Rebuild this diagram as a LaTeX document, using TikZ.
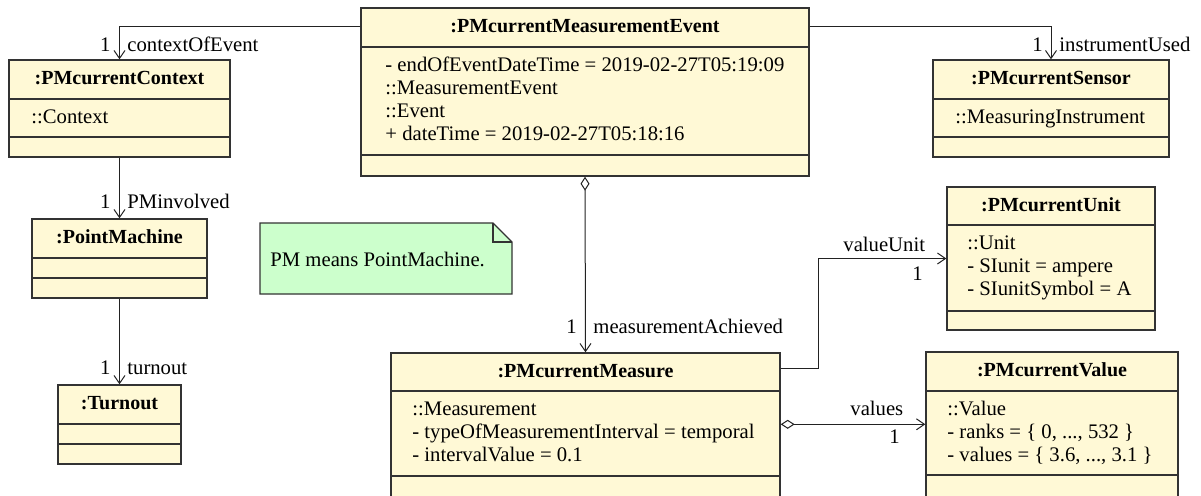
\documentclass[tikz,border=0pt]{standalone}
\usepackage{fontspec}
\setmainfont{Liberation Serif}
\newfontfamily\umlserif{Liberation Serif}
\usetikzlibrary{arrows.meta,calc,fit}

\definecolor{classfill}{HTML}{FFF9D6}
\definecolor{notefill}{HTML}{CCFFCC}
\definecolor{boxline}{HTML}{333333}
\definecolor{linkline}{HTML}{222222}

\tikzset{
  classbox/.style={draw=boxline, fill=classfill, line width=0.7pt, inner sep=0pt},
  sepline/.style={draw=boxline, line width=0.6pt},
  titletext/.style={font=\umlserif\bfseries, anchor=base, inner sep=0pt},
  attrtext/.style={anchor=base west, inner sep=0pt},
  lbl/.style={anchor=base west, inner sep=0pt},
  lblr/.style={anchor=base east, inner sep=0pt},
  assoc/.style={draw=linkline, line width=0.5pt, -{Straight Barb[length=4pt,width=5.5pt]}},
  aggr/.style={draw=linkline, line width=0.5pt,
    {Diamond[open,fill=white,length=7pt,width=4.5pt]}-{Straight Barb[length=4pt,width=5.5pt]}},
  notebox/.style={draw=boxline, fill=notefill, line width=0.7pt},
}

% class box: name, x1, y1, x2, y2, first separator, second separator, title
\newcommand\umlclass[8]{%
  \node[classbox, fit={(#2,#3)(#4,#5)}] (#1) {};
  \draw[sepline] (#2,#6) -- (#4,#6) (#2,#7) -- (#4,#7);
  \node[titletext] (#1-title) at ({(#2+#4)/2},{#3+24}) {#8};
}

\begin{document}
\begin{tikzpicture}[x=0.5pt, y=-0.5pt, font=\umlserif\fontsize{10.35}{12}\selectfont]
\useasboundingbox (0,0) rectangle (1201,495);
\clip (0,0) rectangle (1201,495);
\fill[white] (0,0) rectangle (1201,495);

% classes
\umlclass{ev}{361}{8}{809}{176}{47}{155}{:PMcurrentMeasurementEvent}
\node[attrtext] (ev-a1) at (385,71)  {- endOfEventDateTime = 2019-02-27T05:19:09};
\node[attrtext] (ev-a2) at (385,94)  {::MeasurementEvent};
\node[attrtext] (ev-a3) at (385,117) {::Event};
\node[attrtext] (ev-a4) at (385,140) {+ dateTime = 2019-02-27T05:18:16};

\umlclass{ctx}{9}{60}{230}{157}{99}{137}{:PMcurrentContext}
\node[attrtext] (ctx-a1) at (31,123) {::Context};

\umlclass{sen}{933}{60}{1169}{157}{99}{137}{:PMcurrentSensor}
\node[attrtext] (sen-a1) at (955,123) {::MeasuringInstrument};

\umlclass{pm}{32}{219}{207}{298}{258}{278}{:PointMachine}

\umlclass{to}{58}{385}{181}{464}{424}{444}{:Turnout}

\umlclass{unit}{947}{187}{1155}{330}{225}{311}{:PMcurrentUnit}
\node[attrtext] (unit-a1) at (967,249) {::Unit};
\node[attrtext] (unit-a2) at (967,272) {- SIunit = ampere};
\node[attrtext] (unit-a3) at (967,295) {- SIunitSymbol = A};

\umlclass{meas}{391}{353}{780}{510}{391}{476}{:PMcurrentMeasure}
\node[attrtext] (meas-a1) at (412,415) {::Measurement};
\node[attrtext] (meas-a2) at (412,438) {- typeOfMeasurementInterval = temporal};
\node[attrtext] (meas-a3) at (412,461) {- intervalValue = 0.1};

\umlclass{val}{926}{352}{1178}{510}{391}{475}{:PMcurrentValue}
\node[attrtext] (val-a1) at (947,415) {::Value};
\node[attrtext] (val-a2) at (947,438) {- ranks = \{ 0, ..., 532 \}};
\node[attrtext] (val-a3) at (947,461) {- values = \{ 3.6, ..., 3.1 \}};

% note
\draw[notebox] (260,223) -- (493,223) -- (512,242) -- (512,294) -- (260,294) -- cycle;
\draw[draw=boxline, line width=0.6pt] (493,223) -- (493,242) -- (512,242);
\node[lbl] (note) at (270,266) {PM means PointMachine.};

% links
\draw[assoc] ($(ev.north west)+(0,19)$) -| (ctx.north);
\node[lblr] (l-ctx1) at (111,51) {1};
\node[lbl]  (l-ctx2) at (127,51) {contextOfEvent};

\draw[assoc] ($(ev.north east)+(0,19)$) -| (sen.north);
\node[lblr] (l-sen1) at (1043,51) {1};
\node[lbl]  (l-sen2) at (1059,51) {instrumentUsed};

\draw[assoc] (ctx.south) -- (pm.north);
\node[lblr] (l-pm1) at (111,208) {1};
\node[lbl]  (l-pm2) at (127,208) {PMinvolved};

\draw[assoc] (pm.south) -- (to.north);
\node[lblr] (l-to1) at (111,374) {1};
\node[lbl]  (l-to2) at (127,374) {turnout};

\draw[aggr] (ev.south) -- (meas.north);
\node[lblr] (l-ms1) at (577,333) {1};
\node[lbl]  (l-ms2) at (593,333) {measurementAchieved};

\draw[assoc] ($(meas.north east)+(0,16)$) -- ++(38,0) |- (unit.west);
\node[lbl]  (l-un2) at (843,251) {valueUnit};
\node[lblr] (l-un1) at (923,280) {1};

\draw[aggr] ($(meas.north east)+(0,72)$) coordinate (vs) -- (vs -| val.west);
\node[lbl]  (l-va2) at (850,415) {values};
\node[lblr] (l-va1) at (900,443) {1};
\end{tikzpicture}
\end{document}
